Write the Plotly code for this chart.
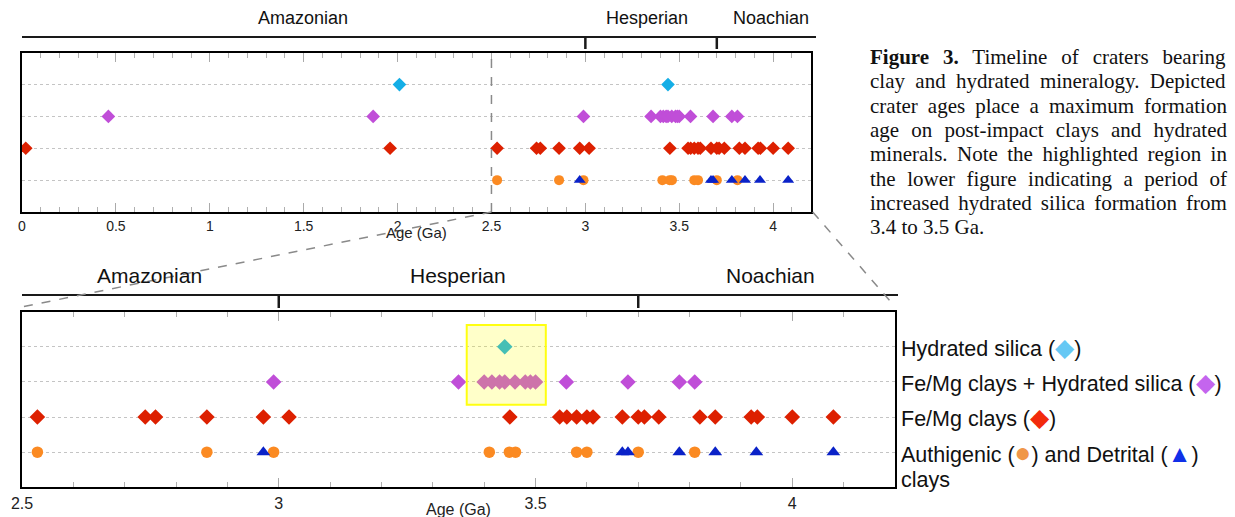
import plotly.graph_objects as go

# ---------------- data (ages in Ga) ----------------
hydrated_silica = [2.01, 3.44]
femg_plus_silica = [0.46, 1.87, 2.99, 3.35, 3.40, 3.415, 3.43, 3.44, 3.46, 3.48, 3.49, 3.50,
                    3.56, 3.68, 3.78, 3.81]
femg_clays = [0.02, 1.96, 2.53, 2.74, 2.76, 2.86, 2.97, 3.02, 3.45, 3.547, 3.561, 3.58, 3.60,
              3.612, 3.669, 3.70, 3.712, 3.74, 3.82, 3.85, 3.92, 3.932, 4.00, 4.08]
authigenic = [2.53, 2.86, 2.99, 3.41, 3.449, 3.461, 3.58, 3.60, 3.70, 3.81]
detrital = [2.97, 3.669, 3.68, 3.78, 3.85, 3.93, 4.08]

row_names = ["Authigenic / Detrital clays", "Fe/Mg clays", "Fe/Mg clays + Hydrated silica", "Hydrated silica"]
row_index = {name: i + 1 for i, name in enumerate(row_names)}

period_names = ["Amazonian", "Hesperian", "Noachian"]
period_boundaries = [3.0, 3.7]
highlight_age = [3.366, 3.52]

top_range = [0, 4.2]
bottom_range = [2.5, 4.2]

# ---------------- layout geometry ----------------
W, H = 1235, 517
top_x = [22 / W, 810.7 / W]
top_y = [1 - 212 / H, 1 - 52.7 / H]
bot_x = [22 / W, 895 / W]
bot_y = [1 - 487.3 / H, 1 - 311.7 / H]

RED = "#dd2000"
PURPLE = "#c04ed8"
CYAN = "#14aee6"
ORANGE = "#fb8a22"
BLUE = "#0a22c8"

FONT = "Liberation Sans, Arial, sans-serif"
SERIF = "Liberation Serif, Times New Roman, serif"

fig = go.Figure()

series = [
    (hydrated_silica, "Hydrated silica", "diamond", CYAN, "diamond"),
    (femg_plus_silica, "Fe/Mg clays + Hydrated silica", "diamond", PURPLE, "diamond"),
    (femg_clays, "Fe/Mg clays", "diamond", RED, "diamond"),
    (authigenic, "Authigenic / Detrital clays", "circle", ORANGE, "circle"),
    (detrital, "Authigenic / Detrital clays", "triangle-up", BLUE, "triangle"),
]

sizes_top = {"diamond": 10.5, "circle": 10, "triangle": 10.5}
sizes_bot = {"diamond": 12, "circle": 11.5, "triangle": 12}

for vals, row, sym, col, kind in series:
    fig.add_trace(go.Scatter(
        x=vals, y=[row_index[row]] * len(vals), mode="markers",
        marker=dict(symbol=sym, color=col, size=sizes_top[kind], line=dict(width=0)),
        xaxis="x", yaxis="y", showlegend=False, hoverinfo="skip"))
    sub = [v for v in vals if v >= bottom_range[0]]
    fig.add_trace(go.Scatter(
        x=sub, y=[row_index[row]] * len(sub), mode="markers",
        marker=dict(symbol=sym, color=col, size=sizes_bot[kind], line=dict(width=0)),
        xaxis="x2", yaxis="y2", showlegend=False, hoverinfo="skip"))

xcommon = dict(showline=True, linecolor="black", linewidth=2, mirror="ticks",
               ticks="inside", tickcolor="#aaaaaa", tickwidth=1, ticklen=9,
               showgrid=False, zeroline=False, dtick=0.5, automargin=False,
               minor=dict(dtick=0.1, ticks="inside", ticklen=5, tickcolor="#b0b0b0", tickwidth=1, showgrid=False))
ycommon = dict(range=[0, 5], tickvals=[1, 2, 3, 4], showticklabels=False, ticks="",
               showgrid=True, gridcolor="#c4c4c4", griddash="dot", gridwidth=1, automargin=False,
               showline=True, linecolor="black", linewidth=2, mirror=True, zeroline=False)

fig.update_layout(
    width=W, height=H, margin=dict(l=0, r=0, t=0, b=0, pad=0, autoexpand=False),
    paper_bgcolor="white", plot_bgcolor="white",
    xaxis=dict(domain=top_x, range=top_range, anchor="y",
               tickfont=dict(family=FONT, size=14, color="#222"), **xcommon),
    yaxis=dict(domain=top_y, anchor="x", **ycommon),
    xaxis2=dict(domain=bot_x, range=bottom_range, anchor="y2",
                tickfont=dict(family=FONT, size=16, color="#222"), **xcommon),
    yaxis2=dict(domain=bot_y, anchor="x2", **ycommon),
)

shapes = []
ann = []

def px_y(py):
    return 1 - py / H

# period bars
for (xr, x0p, x1p, ybar, tlen, lab_y, lab_size, lab_x) in [
        ("x", 22 / W, 816 / W, 37, 12, 18, 18, [1.497, 3.33, 3.986]),
        ("x2", 22 / W, 898 / W, 295, 13, 275, 21, [2.749, 3.349, 3.958])]:
    shapes.append(dict(type="line", xref="paper", yref="paper", x0=x0p, x1=x1p,
                       y0=px_y(ybar), y1=px_y(ybar), line=dict(color="#1a1a1a", width=2)))
    for b in period_boundaries:
        shapes.append(dict(type="line", xref=xr, yref="paper", x0=b, x1=b,
                           y0=px_y(ybar), y1=px_y(ybar + tlen), line=dict(color="#1a1a1a", width=2.5)))
    for name, lx in zip(period_names, lab_x):
        ann.append(dict(text=name, xref=xr, yref="paper", x=lx, y=px_y(lab_y),
                        showarrow=False, xanchor="center", yanchor="middle",
                        font=dict(family=FONT, size=lab_size, color="#111")))

# zoom indicator: vertical dashed line at 2.5 in top plot and connectors
DASH = dict(color="#8a8a8a", width=1.5, dash="dash")
shapes.append(dict(type="line", xref="x", yref="y domain", x0=bottom_range[0], x1=bottom_range[0],
                   y0=0, y1=1, line=DASH))
x25_paper = top_x[0] + (bottom_range[0] - top_range[0]) / (top_range[1] - top_range[0]) * (top_x[1] - top_x[0])
shapes.append(dict(type="line", xref="paper", yref="paper", x0=x25_paper, y0=top_y[0],
                   x1=bot_x[0] - 4 / W, y1=bot_y[1] + 4 / H, line=DASH))
shapes.append(dict(type="line", xref="paper", yref="paper", x0=top_x[1] + 2 / W, y0=top_y[0],
                   x1=bot_x[1], y1=bot_y[1] + 5 / H, line=DASH))

# highlighted region
shapes.append(dict(type="rect", xref="x2", yref="y2", x0=highlight_age[0], x1=highlight_age[1],
                   y0=2.35, y1=4.62, layer="above",
                   fillcolor="rgba(255,255,0,0.21)", line=dict(color="#ffff10", width=2)))

# axis titles
ann.append(dict(text="Age (Ga)", xref="paper", yref="paper", x=(top_x[0] + top_x[1]) / 2, y=px_y(233),
                showarrow=False, xanchor="center", yanchor="middle",
                font=dict(family=FONT, size=15, color="#222")))
ann.append(dict(text="Age (Ga)", xref="paper", yref="paper", x=(bot_x[0] + bot_x[1]) / 2, y=px_y(509),
                showarrow=False, xanchor="center", yanchor="middle",
                font=dict(family=FONT, size=16, color="#222")))

# right-hand legend labels
def sym(ch, col, fs):
    return f'<span style="color:{col};font-size:{fs}px">{ch}</span>'

legend_rows = [
    (row_index["Hydrated silica"], "Hydrated silica (" + sym("◆", "#66c8f4", 25) + ")"),
    (row_index["Fe/Mg clays + Hydrated silica"], "Fe/Mg clays + Hydrated silica (" + sym("◆", "#c465ee", 25) + ")"),
    (row_index["Fe/Mg clays"], "Fe/Mg clays (" + sym("◆", "#f22a0c", 25) + ")"),
    (row_index["Authigenic / Detrital clays"],
     "Authigenic (" + sym("●", "#f0964a", 28) + ") and Detrital (" + sym("▲", "#1030e8", 24) + ")"),
]
for yv, txt in legend_rows:
    ann.append(dict(text=txt, xref="paper", yref="y2", x=899 / W, y=yv, showarrow=False,
                    xanchor="left", yanchor="middle", font=dict(family=FONT, size=21.5, color="#111")))
ann.append(dict(text="clays", xref="paper", yref="paper", x=899 / W, y=px_y(480), showarrow=False,
                xanchor="left", yanchor="middle", font=dict(family=FONT, size=21.5, color="#111")))

# caption (justified via word spacing computed from Times metrics)
TIMES = {' ': 250, '.': 250, '-': 333, 'F': 556, 'D': 722, 'N': 722, 'G': 722, 'T': 611}
TIMES.update({c: 500 for c in "0123456789bdghknopquvxy"})
TIMES.update({'a': 444, 'c': 444, 'e': 444, 'z': 444, 'f': 333, 'r': 333, 'i': 278, 'j': 278,
              'l': 278, 't': 278, 'm': 778, 's': 389, 'w': 722})
TIMES_BOLD = {'F': 611, 'i': 278, 'g': 500, 'u': 556, 'r': 444, 'e': 444, ' ': 250, '3': 500, '.': 250}

CAP_SIZE = 21
CAP_LEFT, CAP_RIGHT = 868, 1225
caption_lines = [
    ("Figure 3.", "Timeline of craters bearing"),
    ("", "clay and hydrated mineralogy. Depicted"),
    ("", "crater ages place a maximum formation"),
    ("", "age on post-impact clays and hydrated"),
    ("", "minerals. Note the highlighted region in"),
    ("", "the lower figure indicating a period of"),
    ("", "increased hydrated silica formation from"),
    ("", "3.4 to 3.5 Ga."),
]
for i, (bold, rest) in enumerate(caption_lines):
    full_plain = (bold + " " + rest) if bold else rest
    width = sum(TIMES_BOLD.get(c, 500) for c in bold) + (250 if bold else 0) \
        + sum(TIMES.get(c, 500) for c in rest)
    width_px = width / 1000 * CAP_SIZE
    gaps = full_plain.count(" ")
    last = i == len(caption_lines) - 1
    ws = 0 if last else max(0.0, (CAP_RIGHT - CAP_LEFT - width_px) / gaps)
    body = (f"<b>{bold}</b> {rest}" if bold else rest)
    txt = f'<span style="word-spacing:{ws:.2f}px">{body}</span>' if ws else body
    ann.append(dict(text=txt, xref="paper", yref="paper", x=CAP_LEFT / W, y=px_y(57 + i * 24.3),
                    showarrow=False, xanchor="left", yanchor="middle",
                    font=dict(family=SERIF, size=CAP_SIZE, color="#111")))

fig.update_layout(shapes=shapes, annotations=ann)
fig.write_html("out.html", config={"displayModeBar": False},
               post_script="document.body.style.margin='0px';")
